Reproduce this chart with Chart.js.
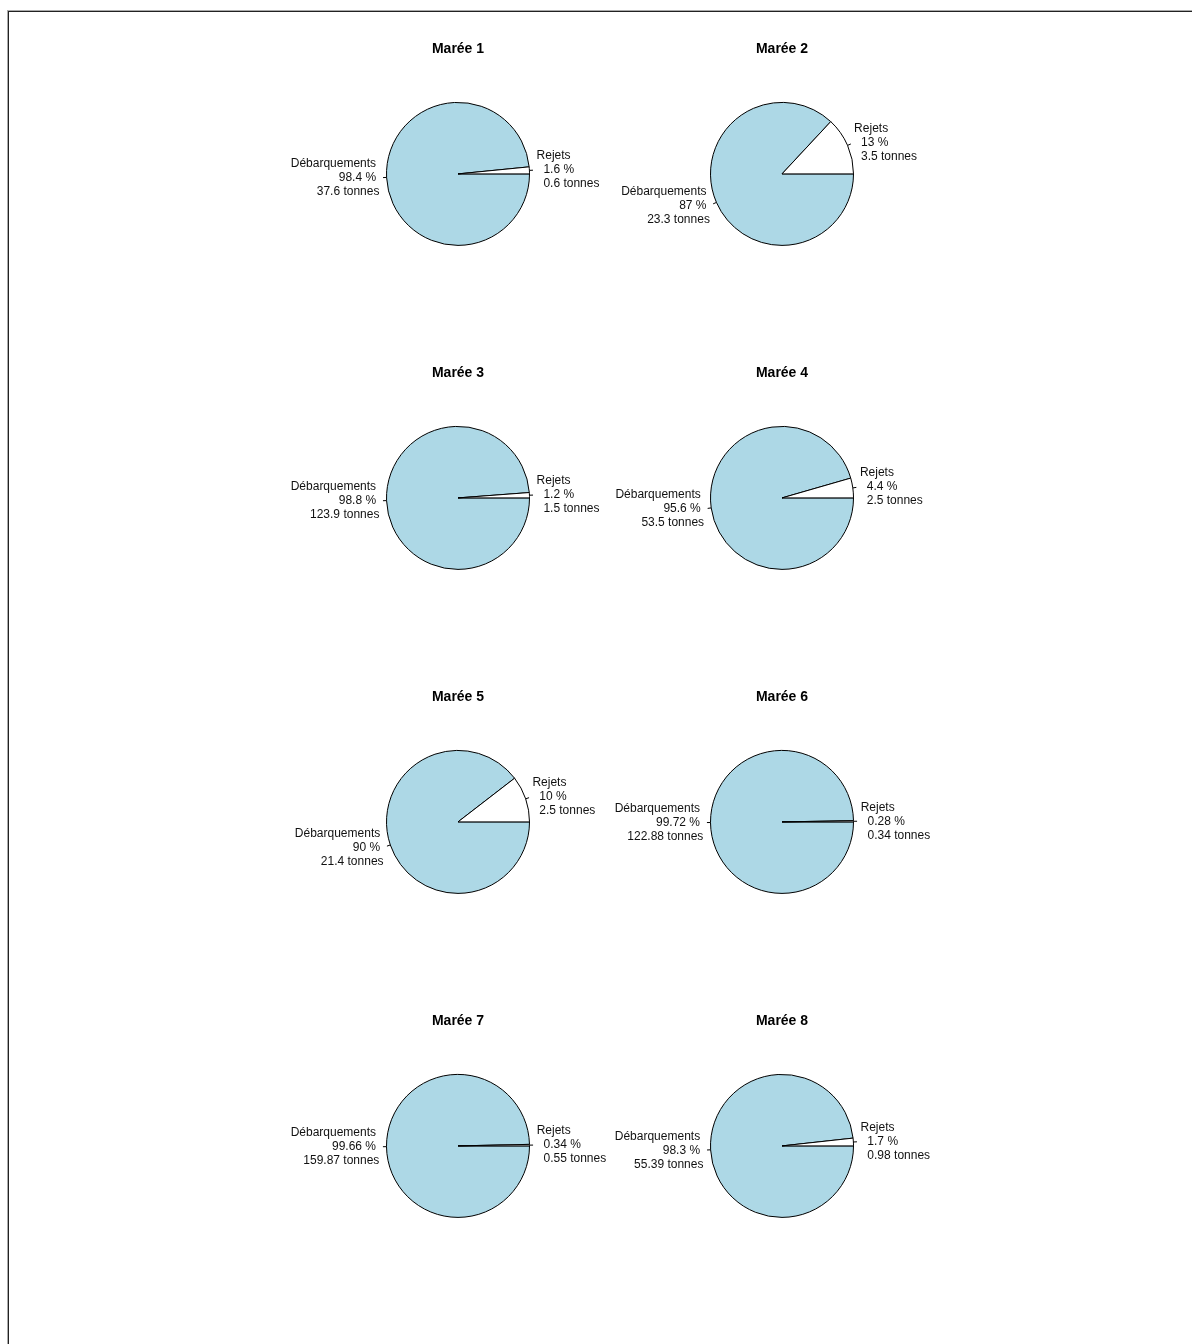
<!DOCTYPE html>
<html>
<head>
<meta charset="utf-8">
<script src="https://cdn.jsdelivr.net/npm/chart.js@4.4.0/dist/chart.umd.min.js"></script>
<style>
  html, body { margin: 0; padding: 0; background: #fff; }
  body { width: 1192px; height: 1344px; position: relative; overflow: hidden; }
  .frame1 { position: absolute; left: 7px; top: 10px; right: -5px; bottom: -5px;
            border-left: 1px solid #aaa; border-top: 1px solid #aaa; }
  .frame2 { position: absolute; left: 8px; top: 11px; right: -5px; bottom: -5px;
            border-left: 1px solid #222; border-top: 1px solid #222; }
  canvas { position: absolute; }
</style>
</head>
<body>
<div class="frame1"></div>
<div class="frame2"></div>
<script>
// one pie per trip ("marée"): landings vs discards
const marees = ["Marée 1", "Marée 2", "Marée 3", "Marée 4", "Marée 5", "Marée 6", "Marée 7", "Marée 8"];
const categories = ["Débarquements", "Rejets"];
const debTonnes = [37.6, 23.3, 123.9, 53.5, 21.4, 122.88, 159.87, 55.39];
const rejTonnes = [0.6, 3.5, 1.5, 2.5, 2.5, 0.34, 0.55, 0.98];
const debPct = [98.4, 87, 98.8, 95.6, 90, 99.72, 99.66, 98.3];
const rejPct = [1.6, 13, 1.2, 4.4, 10, 0.28, 0.34, 1.7];

const FONT = "'Liberation Sans', Arial, Helvetica, sans-serif";
const colours = ["#ADD8E6", "#FFFFFF"];

// labels R-style: tick from r to 1.05r, text at 1.1r
const pieLabels = {
    id: "pieLabels",
    afterDatasetsDraw(chart, args, opts) {
        const ctx = chart.ctx;
        const meta = chart.getDatasetMeta(0);
        ctx.save();
        ctx.font = "12px " + FONT;
        ctx.fillStyle = "#111";
        ctx.strokeStyle = "#000";
        ctx.lineWidth = 1;
        ctx.textBaseline = "middle";
        meta.data.forEach((arc, k) => {
            const mid = (arc.startAngle + arc.endAngle) / 2;
            const r = arc.outerRadius;
            const c = Math.cos(mid), s = Math.sin(mid);
            ctx.beginPath();
            ctx.moveTo(arc.x + r * c, arc.y + r * s);
            ctx.lineTo(arc.x + 1.05 * r * c, arc.y + 1.05 * r * s);
            ctx.stroke();
            const tx = arc.x + 1.1 * r * c;
            const ty = arc.y + 1.1 * r * s;
            const left = c < 0;
            ctx.textAlign = left ? "right" : "left";
            const lines = opts.lines[k];
            lines.forEach((ln, j) => {
                // R indents the continuation lines a bit more on the right side
                const dx = (!left && j > 0) ? 3.5 : 0;
                ctx.fillText(ln, tx + dx, ty + (j - (lines.length - 1) / 2) * 14);
            });
        });
        ctx.restore();
    }
};

marees.forEach((name, i) => {
    const col = i % 2, row = Math.floor(i / 2);
    const cv = document.createElement("canvas");
    cv.width = 323; // narrow panel: long right labels get clipped as in R
    cv.height = 324;
    cv.style.left = (283 + col * 324) + "px";
    cv.style.top = (12 + row * 324) + "px";
    document.body.appendChild(cv);

    new Chart(cv, {
        type: "pie",
        data: {
            labels: categories,
            datasets: [{
                data: [debTonnes[i], rejTonnes[i]],
                backgroundColor: colours,
                borderColor: "#000",
                borderWidth: 1
            }]
        },
        options: {
            responsive: false,
            animation: false,
            events: [],
            rotation: 90, // start at 3 o'clock like R
            radius: 71.5,
            layout: { padding: { left: 27, bottom: 46 } },
            plugins: {
                legend: { display: false },
                tooltip: { enabled: false },
                title: {
                    display: true,
                    text: name,
                    color: "#000",
                    font: { family: FONT, size: 14, weight: "bold" },
                    padding: { top: 29, bottom: 0 }
                },
                pieLabels: {
                    lines: [
                        ["Débarquements ", " " + debPct[i] + " % ", " " + debTonnes[i] + " tonnes"],
                        ["Rejets ", " " + rejPct[i] + " % ", " " + rejTonnes[i] + " tonnes"]
                    ]
                }
            }
        },
        plugins: [pieLabels]
    });
});
</script>
</body>
</html>
